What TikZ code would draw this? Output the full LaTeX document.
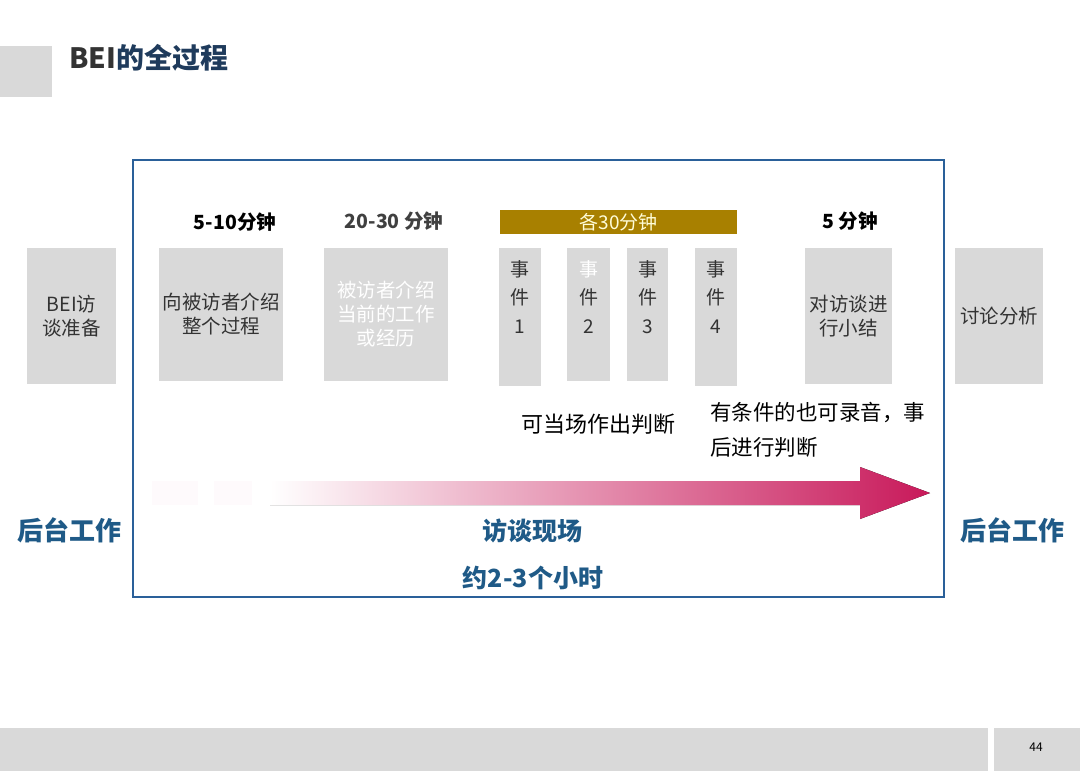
\documentclass[tikz,border=0pt]{standalone}
\usepackage{fontspec}
\setmainfont{Noto Sans CJK SC}
\definecolor{boxgray}{HTML}{D9D9D9}
\definecolor{framblue}{HTML}{2A6099}
\definecolor{titleblue}{HTML}{1F3B5C}
\definecolor{textblue}{HTML}{1F5A87}
\definecolor{gold}{HTML}{A88000}
\definecolor{arrowred}{RGB}{200,25,90}
\tikzset{
  gbox/.style={fill=boxgray, draw=none, inner sep=0pt, align=center, font=\fontsize{19.5}{24}\selectfont, text=black!80},
  evbox/.style={fill=boxgray, draw=none, inner sep=0pt, anchor=north},
  evtxt/.style={anchor=north, inner sep=0pt, align=center, font=\fontsize{19}{28.5}\selectfont, text=black!80},
  dur/.style={font=\bfseries\fontsize{19.5}{22}\selectfont, text=black},
  note/.style={font=\fontsize{22}{35}\selectfont, text=black, align=left},
  bluelbl/.style={font=\bfseries\fontsize{26}{28}\selectfont, text=textblue},
}
\begin{document}
\begin{tikzpicture}[x=1pt,y=-1pt]
\useasboundingbox (0,0) rectangle (1080,771);
\fill[white] (0,0) rectangle (1080,771);
% header
\fill[boxgray] (0,46) rectangle (52,97);
\node[anchor=west, inner sep=0pt, font=\bfseries\fontsize{28}{30}\selectfont] (title) at (69,58) {\textcolor{black!80}{BEI}\textcolor{titleblue}{的全过程}};
% frame
\draw[framblue, line width=2.8pt] (133,160) rectangle (944,597);
% boxes
\node[gbox, minimum width=89pt, minimum height=136pt] (prep) at (71.5,316) {BEI访\\谈准备};
\node[gbox, minimum width=124pt, minimum height=133pt] (intro) at (221,314.5) {向被访者介绍\\整个过程};
\node[gbox, minimum width=124pt, minimum height=133pt, text=white] (work) at (386,314.5) {被访者介绍\\当前的工作\\或经历};
\node[evbox, minimum width=42pt, minimum height=138pt] (e1) at (520,248) {};
\node[evbox, minimum width=43pt, minimum height=133pt] (e2) at (588.5,248) {};
\node[evbox, minimum width=41pt, minimum height=133pt] (e3) at (647.5,248) {};
\node[evbox, minimum width=42pt, minimum height=138pt] (e4) at (716,248) {};
\node[evtxt] (t1) at ([yshift=-12pt]e1.north) {事\\件\\1};
\node[evtxt] (t2) at ([yshift=-12pt]e2.north) {\textcolor{white}{事}\\件\\2};
\node[evtxt] (t3) at ([yshift=-12pt]e3.north) {事\\件\\3};
\node[evtxt] (t4) at ([yshift=-12pt]e4.north) {事\\件\\4};
\node[gbox, minimum width=87pt, minimum height=136pt] (summ) at (848.5,316) {对访谈进\\行小结};
\node[gbox, minimum width=88pt, minimum height=136pt] (disc) at (999,316) {讨论分析};
% durations
\node[dur] (d1) at (235,222) {5-10分钟};
\node[dur, text=black!75] (d2) at (394,221) {20-30 分钟};
\node[fill=gold, minimum width=237pt, minimum height=24pt, inner sep=0pt, text=yellow!15, font=\fontsize{19}{21}\selectfont] (d3) at (618.5,222) {各30分钟};
\node[dur] (d4) at (850,221) {5 分钟};
% notes
\node[note] (n1) at (598,424) {可当场作出判断};
\node[note, anchor=north west, inner sep=0pt, font=\fontsize{21.5}{35}\selectfont] (n2) at (710,402) {有条件的也可录音，事\\后进行判断};
% arrow
\fill[arrowred!2] (152,481) rectangle (198,505);
\fill[arrowred!2] (214,481) rectangle (252,505);
\coordinate (as) at (270,493);
\coordinate (ae) at (930,493);
\fill[left color=white, right color=arrowred] (270,481) -- (860,481) -- (860,467) -- (ae) -- (860,519) -- (860,505) -- (270,505) -- cycle;
% blue labels
\node[bluelbl] (bl) at (69,530) {后台工作};
\node[bluelbl] (br) at (1012,530) {后台工作};
\node[bluelbl, font=\bfseries\fontsize{25}{28}\selectfont] (site) at (532,531) {访谈现场};
\node[bluelbl, font=\bfseries\fontsize{25}{28}\selectfont] (time) at (533,578) {约2-3个小时};
% footer
\fill[boxgray] (0,728) rectangle (988,771);
\fill[boxgray] (994,728) rectangle (1080,771);
\node[font=\fontsize{12}{14}\selectfont, text=black] (pg) at (1036,747) {44};
\end{tikzpicture}
\end{document}
